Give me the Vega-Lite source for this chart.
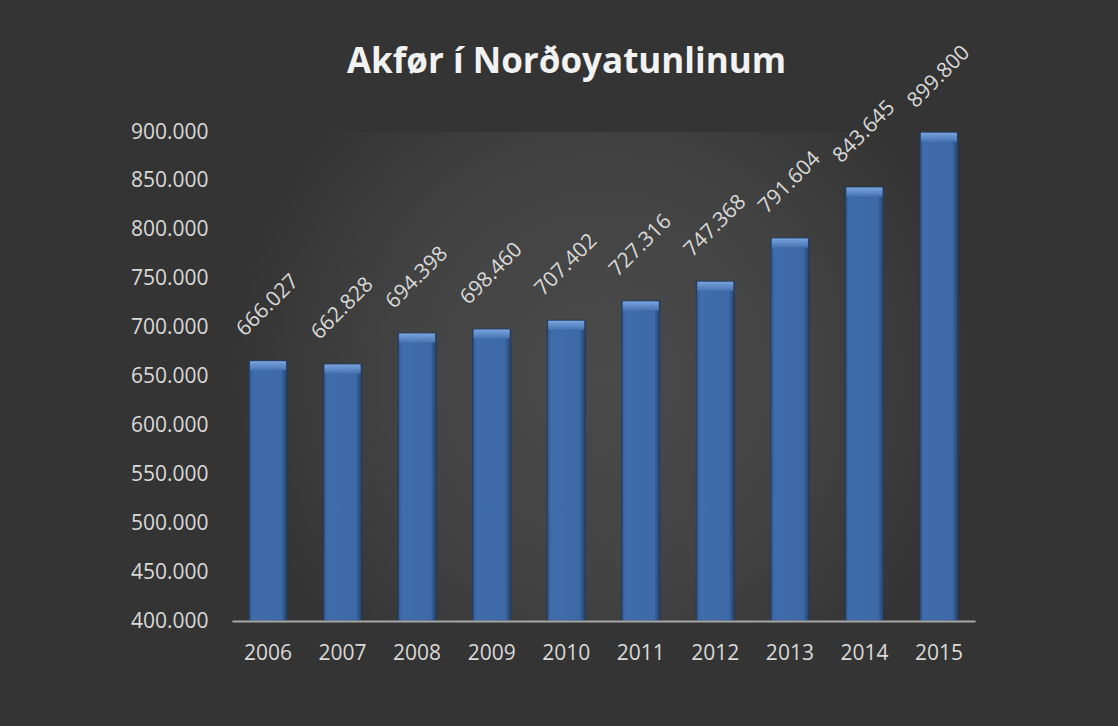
{
  "$schema": "https://vega.github.io/schema/vega-lite/v6.json",
  "width": 743,
  "height": 489,
  "autosize": {"type": "none"},
  "padding": {"left": 232, "top": 132, "right": 143, "bottom": 105},
  "background": "#343434",
  "config": {
    "locale": {"number": {"decimal": ",", "thousands": ".", "grouping": [3], "currency": ["", " kr."]}},
    "view": {"stroke": null},
    "font": "Open Sans"
  },
  "title": {
    "text": "Akfør í Norðoyatunlinum",
    "font": "Open Sans",
    "fontSize": 35,
    "fontWeight": "bold",
    "color": "#f2f2f2",
    "anchor": "middle",
    "frame": "group",
    "baseline": "alphabetic",
    "offset": -66,
    "dx": -37
  },
  "data": {
    "values": [
      {"year": "2006", "value": 666027},
      {"year": "2007", "value": 662828},
      {"year": "2008", "value": 694398},
      {"year": "2009", "value": 698460},
      {"year": "2010", "value": 707402},
      {"year": "2011", "value": 727316},
      {"year": "2012", "value": 747368},
      {"year": "2013", "value": 791604},
      {"year": "2014", "value": 843645},
      {"year": "2015", "value": 899800}
    ]
  },
  "layer": [
    {
      "data": {"values": [{}]},
      "mark": {
        "type": "rect",
        "fill": {
          "gradient": "radial",
          "x1": 0.5, "y1": 0.5, "r1": 0,
          "x2": 0.5, "y2": 0.5, "r2": 0.5,
          "stops": [
            {"offset": 0, "color": "#4a4a4a"},
            {"offset": 0.55, "color": "#434343"},
            {"offset": 1, "color": "#343434"}
          ]
        }
      },
      "encoding": {}
    },
    {
      "mark": {
        "type": "bar",
        "stroke": "#223a5c",
        "strokeWidth": 1,
        "fill": {
          "gradient": "linear",
          "x1": 0, "y1": 0, "x2": 1, "y2": 0,
          "stops": [
            {"offset": 0, "color": "#2f5688"},
            {"offset": 0.1, "color": "#3f6cab"},
            {"offset": 0.85, "color": "#3d69a6"},
            {"offset": 1, "color": "#24436d"}
          ]
        }
      },
      "encoding": {
        "x": {
          "field": "year",
          "type": "ordinal",
          "scale": {"paddingInner": 0.49, "paddingOuter": 0.228},
          "axis": {
            "title": null,
            "labelAngle": 0,
            "labelFontSize": 21,
            "labelColor": "#d9d9d9",
            "labelFont": "Open Sans",
            "labelPadding": 21,
            "ticks": false,
            "tickSize": 0,
            "domainColor": "#a6a6a6",
            "domainWidth": 2,
            "grid": false,
            "zindex": 1
          }
        },
        "y": {
          "field": "value",
          "type": "quantitative",
          "scale": {"domain": [400000, 900000], "nice": false, "zero": false},
          "axis": {
            "title": null,
            "values": [400000, 450000, 500000, 550000, 600000, 650000, 700000, 750000, 800000, 850000, 900000],
            "format": ",d",
            "labelFontSize": 21,
            "labelColor": "#d9d9d9",
            "labelFont": "Open Sans",
            "labelPadding": 24,
            "ticks": false,
            "tickSize": 0,
            "domain": false,
            "grid": true,
            "gridColor": "#595959",
            "gridWidth": 1
          }
        },
        "y2": {"datum": 400000}
      }
    },
    {
      "mark": {
        "type": "tick",
        "thickness": 9,
        "size": 36,
        "yOffset": 5,
        "fill": {
          "gradient": "linear",
          "x1": 0, "y1": 0, "x2": 0, "y2": 1,
          "stops": [
            {"offset": 0, "color": "#7aa3dc"},
            {"offset": 1, "color": "#4574b3"}
          ]
        },
        "opacity": 1
      },
      "encoding": {
        "x": {"field": "year", "type": "ordinal"},
        "y": {"field": "value", "type": "quantitative"}
      }
    },
    {
      "mark": {
        "type": "text",
        "angle": 315,
        "align": "center",
        "baseline": "middle",
        "dx": 39,
        "dy": -39,
        "fontSize": 21,
        "font": "Open Sans",
        "color": "#d9d9d9"
      },
      "encoding": {
        "x": {"field": "year", "type": "ordinal"},
        "y": {"field": "value", "type": "quantitative"},
        "text": {"field": "value", "type": "quantitative", "format": ",d"}
      }
    }
  ]
}
